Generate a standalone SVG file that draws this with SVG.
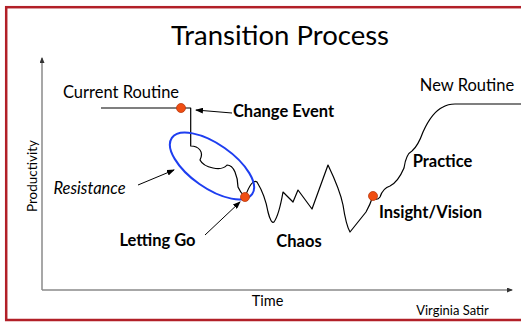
<svg xmlns="http://www.w3.org/2000/svg" width="521" height="322" viewBox="0 0 521 322">
<style>
text{font-family:Lato,"Liberation Sans",sans-serif;fill:#000}
.b{font-weight:bold;font-size:16.5px}
.n{font-size:16.5px}
.ax{stroke:#8a8a8a;stroke-width:1.5;fill:none}
.ar{stroke:#000;stroke-width:1;fill:none;marker-end:url(#ah)}
.dot{fill:#f04e12;stroke:#b83a10;stroke-width:0.8}
</style>
<defs>
<marker id="ah" markerWidth="8" markerHeight="6" refX="7" refY="3" orient="auto" markerUnits="userSpaceOnUse">
<path d="M0,0 L8,3 L0,6 z" fill="#000"/>
</marker>
<marker id="axh" markerWidth="6" markerHeight="5" refX="5" refY="2.5" orient="auto" markerUnits="userSpaceOnUse">
<path d="M0,0 L6,2.5 L0,5 z" fill="#333"/>
</marker>
</defs>
<rect x="6.2" y="7.2" width="520" height="312.8" fill="#fff" stroke="#b22028" stroke-width="2.5"/>
<g id="axes">
<path class="ax" d="M42,290 L42,58" marker-end="url(#axh)"/>
<path class="ax" d="M42,290 L512,290" marker-end="url(#axh)"/>
</g>
<text id="title" x="280" y="45" text-anchor="middle" style="font-size:27.5px">Transition Process</text>
<text x="37" y="176" text-anchor="middle" transform="rotate(-90 37 176)" style="font-size:13.5px">Productivity</text>
<text x="267.5" y="306" text-anchor="middle" style="font-size:14.5px">Time</text>
<text x="452.5" y="315" text-anchor="middle" style="font-size:13px">Virginia Satir</text>
<g id="curve">
<path d="M101,108 L190.7,108 L190.7,146 Q197,146 200,150 T200,160 Q203,166 213,168 T227,165 Q232,165 235,172 T238,187 Q240,192 245,197 Q252,178 257,182 Q265,195 268,212 Q271,224 274,222 Q279,215 283,192 L293,202 L298,190 L312,209 L328,165 Q340,190 343,205 Q346,225 350,232 L366,212 Q370,205 373,196 Q376,202 380,197 Q383,188 390,186 Q398,182 404,168 Q406,154 412,151 Q418,146 423,132 Q432,112 443,107 Q448,104 455,104 L521,104" fill="none" stroke="#000" stroke-width="1.2" stroke-linejoin="round"/>
</g>
<g id="resistance-ellipse">
<ellipse cx="212" cy="166" rx="49" ry="22" transform="rotate(35 212 166)" fill="none" stroke="#1e3ef0" stroke-width="2"/>
</g>
<g id="connectors">
<path class="ar" d="M232,113 L196,110"/>
<path class="ar" d="M138,185 L174,170"/>
<path class="ar" d="M205,235 L240,202"/>
</g>
<g id="current-routine">
<text x="121" y="98" text-anchor="middle" class="n">Current Routine</text>
<circle class="dot" cx="181" cy="108" r="4.5"/>
</g>
<g id="change-event">
<text x="283.5" y="117" text-anchor="middle" class="b">Change Event</text>
</g>
<g id="resistance">
<text x="89.5" y="194" text-anchor="middle" class="n" font-style="italic">Resistance</text>
</g>
<g id="letting-go">
<text x="157.5" y="246" text-anchor="middle" class="b">Letting Go</text>
<circle class="dot" cx="245" cy="197" r="4.5"/>
</g>
<g id="chaos">
<text x="299" y="247" text-anchor="middle" class="b">Chaos</text>
</g>
<g id="insight">
<text x="430.5" y="218" text-anchor="middle" class="b">Insight/Vision</text>
<circle class="dot" cx="373" cy="196" r="4.5"/>
</g>
<g id="practice">
<text x="442.5" y="167" text-anchor="middle" class="b">Practice</text>
</g>
<g id="new-routine">
<text x="467" y="91" text-anchor="middle" class="n">New Routine</text>
</g>
</svg>
